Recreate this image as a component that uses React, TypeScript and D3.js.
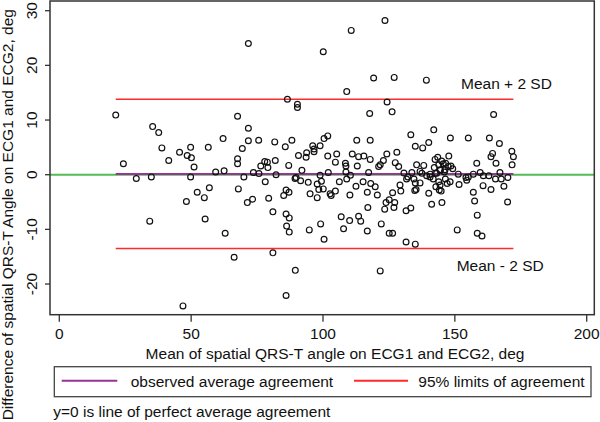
import { useEffect, useRef } from "react";
import * as d3 from "d3";

// Mean of spatial QRS-T angle (ECG1, ECG2), deg
const meanAngle = [
  21.4, 24.3, 29.2, 34.9, 34.3, 35.4, 37.7, 38.9, 41.5, 45.6, 46.9, 48.2, 48.5, 49.8, 49.8, 50.1, 51.1, 52.3, 55.0, 55.3, 56.5, 56.9,
  59.3, 62.1, 62.5, 62.9, 66.3, 67.6, 67.6, 67.6, 67.9, 69.4, 70.0, 71.3, 71.7, 71.7, 71.7, 73.3, 73.6,
  75.6, 75.7, 76.4, 77.9, 78.1, 78.9, 79.1, 79.4, 81.0, 81.0, 81.7, 81.9, 82.2, 85.1, 85.7, 86.0, 86.0, 86.0, 86.2, 86.5,
  87.0, 87.1, 87.2, 87.2, 88.2, 89.4, 89.5, 89.8, 90.3, 90.3, 90.7, 91.5, 92.0, 93.6, 93.8, 94.4, 94.8, 95.1, 96.1, 96.6,
  96.6, 97.8, 97.8, 98.4, 98.9, 98.9, 99.1, 99.4,
  100.1, 100.1, 100.4, 100.4, 101.8, 101.8, 102.0, 102.7, 103.1, 104.7, 104.7, 105.2, 106.2, 106.9, 107.8, 108.5, 108.7,
  108.7, 109.0, 109.0, 110.1, 110.2, 110.4, 110.7, 111.1, 112.5, 112.8, 113.0, 113.5, 113.5, 114.3, 115.2, 115.5, 116.8,
  116.8, 117.0, 117.3, 117.7, 117.9, 117.9, 118.1, 119.2, 119.8, 120.6, 121.1, 121.7, 121.7, 122.1, 122.9, 123.4, 123.5,
  123.9, 124.2, 124.3, 125.1, 125.1,
  126.2, 126.4, 126.4, 126.9, 127.0, 127.2, 127.4, 128.0, 128.7, 129.2, 129.5, 130.7, 131.5, 131.5, 131.7, 132.2, 133.3,
  133.3, 133.7, 134.5, 134.8, 135.0, 135.0, 135.0, 135.3, 135.5, 136.8, 136.8, 137.5, 137.8, 138.2, 139.2, 139.3, 140.1,
  140.1, 140.6, 140.6, 141.2, 141.8, 142.0, 142.2, 142.5, 142.6, 142.8, 143.1, 143.5, 143.9, 143.9, 144.1, 144.4, 144.4,
  144.5, 144.8, 145.0, 145.1, 145.6, 146.0, 146.3, 146.4, 146.5, 147.1, 147.5, 147.7, 148.2, 148.3, 148.5, 149.2,
  150.9, 151.3, 151.6, 154.2, 154.5, 155.1, 155.1, 157.0, 157.0, 157.5, 158.3, 158.5, 158.5, 159.6, 160.3, 160.7, 160.8,
  162.9, 163.1, 163.7, 163.7, 164.3, 164.7, 165.4, 165.6, 166.9, 167.1, 167.6, 168.6, 170.0, 170.1, 171.6, 171.7, 172.2,
];

// Difference of spatial QRS-T angle (ECG1 - ECG2), deg
const diffAngle = [
  10.9, 2.0, -0.7, -0.4, -8.5, 8.8, 7.7, 4.9, 2.6, 4.1, -24.0, -4.9, 3.5, 5.0, -0.4, 3.1, 1.4, -3.2, -4.2, -8.1, 5.0, -2.4,
  0.5, 6.6, 0.7, -10.7, -15.1, 10.7, 2.9, 2.0, -2.6, 4.8, -0.4, -5.1, 24.0, 8.5, 6.2, -4.5, 0.4,
  6.3, 0.2, 1.6, 2.4, -1.3, 2.3, 1.3, -4.3, -6.8, -14.3, 6.0, 2.6, 0.0, -3.8, 5.1, -2.8, -7.2, -22.1, -9.4, 13.8,
  1.7, -3.2, -7.9, -10.5, 6.3, -0.7, -17.5, -0.5, 12.9, 12.3, 3.5, -1.1, 0.8, 3.2, 4.0, -1.4, -10.1, -3.5, 5.3, 4.7,
  4.2, -1.7, -4.2, -2.7, 5.3, -0.1, -9.0, -1.2,
  22.5, -2.6, 6.6, -11.8, 7.1, 3.4, 0.4, -3.5, -3.8, 2.3, -3.0, 3.8, -1.3, -7.7, -9.9, 2.1, 1.6,
  0.5, 15.2, -0.8, -8.4, -3.7, -0.1, 26.4, 3.8, -2.1, 6.3, 1.6, 3.3, -7.6, -8.5, -1.3, 3.4, -3.2,
  -10.3, -6.0, 0.4, 11.2, 6.3, 2.8, -1.6, 17.7, -2.2, -3.7, 1.5, 1.8, -17.6, -9.0, 2.6, -6.3, 28.2,
  -5.1, 3.8, 13.3, -4.6, -10.7,
  11.5, -3.3, -10.7, -6.0, 17.8, -5.1, 2.2, 4.1, 1.5, -1.9, -3.0, 0.3, -6.6, -12.3, -0.8, -0.4, 7.3,
  -6.1, 0.4, -0.8, -2.9, 5.2, -1.5, -12.7, -2.7, 1.8, 0.6, -1.5, 0.25, 4.9, 1.7, 17.3, -0.2, 5.9,
  -3.4, -0.4, 0.1, -5.4, -0.8, 8.2, 1.3, 2.8, 0.25, -2.2, 0.25, 3.2, -1.3, 1.8, -2.8, -1.9, 0.9,
  0.8, -3.0, 2.5, -5.1, 2.0, 0.5, 0.9, -0.8, 2.1, -1.6, 1.5, 3.4, -1.3, 6.7, 1.6, 1.1,
  -10.1, 0.1, -1.8, -0.5, -1.0, 6.7, -0.4, 0.1, -3.2, -4.8, 2.1, -7.4, -10.7, 0.4, -11.2, -2.0, -0.2,
  -0.2, 6.7, 3.3, -2.7, 3.9, 11.0, -0.8, 2.1, 5.7, 0.4, -0.8, -2.1, -5.0, -0.5, 4.3, 1.8, 3.3,
];

const xTicks = [0, 50, 100, 150, 200];
const yTicks = [-20, -10, 0, 10, 20, 30];

const meanDiff = 0.12;
const upperLimit = 13.8;
const lowerLimit = -13.5;

const xTitle = "Mean of spatial QRS-T angle on ECG1 and ECG2, deg";
const yTitle = "Difference of spatial QRS-T Angle on ECG1 and ECG2, deg";
const legendLabels = ["observed average agreement", "95% limits of agreement"];
const noteText = "y=0 is line of perfect average agreement";

const FONT = "'Liberation Sans', Arial, sans-serif";
const PURPLE = "#993399";
const RED = "#ff2a2a";
const GREEN = "#55bb55";

export default function App() {
  const svgRef = useRef<SVGSVGElement>(null);

  useEffect(() => {
    if (!svgRef.current) return;
    const svg = d3.select(svgRef.current);
    svg.selectAll("*").remove();

    // plot frame in pixels
    const frame = { left: 50, right: 594.3, top: 1, bottom: 314.7 };

    const x = d3.scaleLinear().domain([0, 200]).range([59.3, 586.7]);
    const y = d3.scaleLinear().domain([0, 30]).range([174.7, 10.7]);

    const pts = meanAngle.map((m, i) => ({ m, d: diffAngle[i] }));
    const xMin = d3.min(meanAngle)!;
    const xMax = d3.max(meanAngle)!;

    svg.attr("width", 600).attr("height", 422).style("font-family", FONT);
    svg.append("rect").attr("width", 600).attr("height", 422).attr("fill", "#fff");

    // perfect agreement line
    svg
      .append("line")
      .attr("x1", frame.left)
      .attr("x2", frame.right)
      .attr("y1", y(0))
      .attr("y2", y(0))
      .attr("stroke", GREEN)
      .attr("stroke-width", 2);

    // limits of agreement
    [upperLimit, lowerLimit].forEach((v) => {
      svg
        .append("line")
        .attr("x1", x(xMin))
        .attr("x2", x(xMax))
        .attr("y1", y(v))
        .attr("y2", y(v))
        .attr("stroke", RED)
        .attr("stroke-width", 1.4);
    });

    svg
      .append("line")
      .attr("x1", x(xMin))
      .attr("x2", x(xMax))
      .attr("y1", y(meanDiff))
      .attr("y2", y(meanDiff))
      .attr("stroke", PURPLE)
      .attr("stroke-width", 2);

    // points
    svg
      .append("g")
      .selectAll("circle")
      .data(pts)
      .enter()
      .append("circle")
      .attr("cx", (p) => x(p.m))
      .attr("cy", (p) => y(p.d))
      .attr("r", 2.9)
      .attr("fill", "none")
      .attr("stroke", "#111")
      .attr("stroke-width", 1.2);

    // labels on the limit lines
    svg
      .append("text")
      .attr("x", 461)
      .attr("y", 89.3)
      .attr("font-size", 15.5)
      .attr("fill", "#111")
      .text("Mean + 2 SD");
    svg
      .append("text")
      .attr("x", 456.7)
      .attr("y", 271.3)
      .attr("font-size", 15.5)
      .attr("fill", "#111")
      .text("Mean - 2 SD");

    // frame
    svg
      .append("rect")
      .attr("x", frame.left)
      .attr("y", frame.top)
      .attr("width", frame.right - frame.left)
      .attr("height", frame.bottom - frame.top)
      .attr("fill", "none")
      .attr("stroke", "#333")
      .attr("stroke-width", 1.5);

    // x axis
    const xg = svg.append("g");
    xTicks.forEach((t) => {
      xg.append("line")
        .attr("x1", x(t))
        .attr("x2", x(t))
        .attr("y1", frame.bottom)
        .attr("y2", frame.bottom + 7)
        .attr("stroke", "#333")
        .attr("stroke-width", 1.3);
      xg.append("text")
        .attr("x", x(t))
        .attr("y", 339.3)
        .attr("text-anchor", "middle")
        .attr("font-size", 15.5)
        .attr("fill", "#111")
        .text(t);
    });

    // y axis (vertical labels)
    const yg = svg.append("g");
    yTicks.forEach((t) => {
      yg.append("line")
        .attr("x1", frame.left - 5)
        .attr("x2", frame.left)
        .attr("y1", y(t))
        .attr("y2", y(t))
        .attr("stroke", "#333")
        .attr("stroke-width", 1.3);
      yg.append("text")
        .attr("transform", `translate(36.7,${y(t)}) rotate(-90)`)
        .attr("text-anchor", "middle")
        .attr("font-size", 15.5)
        .attr("fill", "#111")
        .text(t);
    });

    // axis titles
    svg
      .append("text")
      .attr("x", 335)
      .attr("y", 358.5)
      .attr("text-anchor", "middle")
      .attr("font-size", 15.5)
      .attr("fill", "#111")
      .text(xTitle);
    svg
      .append("text")
      .attr("transform", "translate(12.5,214.7) rotate(-90)")
      .attr("text-anchor", "middle")
      .attr("font-size", 15.5)
      .attr("fill", "#111")
      .text(yTitle);

    // legend
    const lg = svg.append("g");
    lg.append("rect")
      .attr("x", 54.3)
      .attr("y", 366.7)
      .attr("width", 591 - 54.3)
      .attr("height", 30)
      .attr("fill", "#fff")
      .attr("stroke", "#444")
      .attr("stroke-width", 1.3);
    const legendItems = [
      { label: legendLabels[0], color: PURPLE, x0: 61.7, x1: 117.3, tx: 130.7 },
      { label: legendLabels[1], color: RED, x0: 354, x1: 408, tx: 418.3 },
    ];
    legendItems.forEach((it) => {
      lg.append("line")
        .attr("x1", it.x0)
        .attr("x2", it.x1)
        .attr("y1", 380.7)
        .attr("y2", 380.7)
        .attr("stroke", it.color)
        .attr("stroke-width", 2);
      lg.append("text")
        .attr("x", it.tx)
        .attr("y", 387)
        .attr("font-size", 15.5)
        .attr("fill", "#111")
        .text(it.label);
    });

    svg
      .append("text")
      .attr("x", 53.3)
      .attr("y", 416.7)
      .attr("font-size", 15.5)
      .attr("fill", "#111")
      .text(noteText);
  }, []);

  return (
    <div style={{ position: "absolute", left: 0, top: 0 }}>
      <svg ref={svgRef} width={600} height={422} style={{ display: "block" }} />
    </div>
  );
}
